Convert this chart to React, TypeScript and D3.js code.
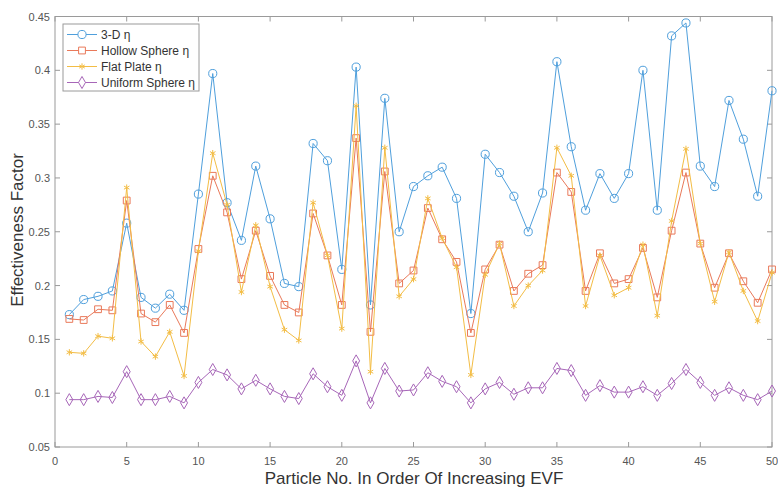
import React from "react";
import * as d3 from "d3";

const particleNo = d3.range(1, 51);
const threeD = [0.173,0.187,0.190,0.195,0.258,0.189,0.179,0.192,0.177,0.285,0.397,0.277,0.242,0.311,0.262,0.202,0.199,0.332,0.316,0.215,0.403,0.182,0.374,0.250,0.292,0.302,0.310,0.281,0.174,0.322,0.305,0.283,0.250,0.286,0.408,0.329,0.270,0.304,0.281,0.304,0.400,0.270,0.432,0.444,0.311,0.292,0.372,0.336,0.283,0.381];
const hollow = [0.169,0.168,0.178,0.177,0.279,0.174,0.166,0.182,0.156,0.234,0.302,0.268,0.206,0.251,0.209,0.182,0.175,0.267,0.228,0.182,0.337,0.157,0.306,0.202,0.214,0.272,0.243,0.222,0.156,0.215,0.238,0.195,0.211,0.219,0.305,0.287,0.195,0.230,0.202,0.206,0.235,0.189,0.251,0.305,0.239,0.198,0.230,0.204,0.184,0.215];
const flat = [0.138,0.137,0.153,0.151,0.291,0.148,0.134,0.157,0.116,0.232,0.323,0.275,0.194,0.256,0.199,0.159,0.149,0.277,0.228,0.160,0.367,0.120,0.328,0.190,0.206,0.281,0.244,0.217,0.117,0.210,0.239,0.181,0.200,0.214,0.328,0.302,0.181,0.228,0.191,0.198,0.238,0.172,0.260,0.327,0.239,0.185,0.231,0.195,0.167,0.212];
const uniform = [0.094,0.094,0.097,0.096,0.120,0.094,0.094,0.097,0.091,0.110,0.122,0.117,0.104,0.112,0.104,0.097,0.095,0.118,0.106,0.098,0.130,0.091,0.123,0.102,0.103,0.119,0.111,0.106,0.091,0.104,0.110,0.099,0.105,0.105,0.123,0.121,0.098,0.107,0.101,0.101,0.106,0.098,0.109,0.122,0.110,0.098,0.105,0.098,0.094,0.102];

const seriesNames = ["3-D η", "Hollow Sphere η", "Flat Plate η", "Uniform Sphere η"];
const seriesColors = ["#4f9fdc", "#e9795a", "#f3bd45", "#a766b8"];
const xTicks = [0, 5, 10, 15, 20, 25, 30, 35, 40, 45, 50];
const yTicks = [0.05, 0.1, 0.15, 0.2, 0.25, 0.3, 0.35, 0.4, 0.45];

const W = 778, H = 487;
const L = 55, R = 772, T = 16.5, B = 447;

export default function App() {
  const x = d3.scaleLinear().domain([0, 50]).range([L, R]);
  const y = d3.scaleLinear().domain([0.05, 0.45]).range([B, T]);
  const allSeries = [threeD, hollow, flat, uniform];
  const symbols = [
    d3.symbol(d3.symbolCircle, 52),
    d3.symbol(d3.symbolSquare, 46),
    d3.symbol(d3.symbolAsterisk, 28),
    d3.symbol(d3.symbolDiamond, 42),
  ];
  const line = d3.line<number>().x((_, i) => x(particleNo[i])).y((d) => y(d));
  const font = "'Liberation Sans', Arial, sans-serif";
  const axisColor = "#9a9a9a";
  const tickText = "#555";
  const tl = 5;

  return (
    <svg width={W} height={H} style={{ position: "absolute", left: 0, top: 0, background: "#fff" }} fontFamily={font}>
      <rect x={0} y={0} width={W} height={H} fill="#fff" />
      {/* frame */}
      <rect x={L} y={T} width={R - L} height={B - T} fill="none" stroke={axisColor} strokeWidth={1} />
      {xTicks.map((t) => (
        <g key={"xt" + t}>
          <line x1={x(t)} x2={x(t)} y1={B} y2={B - tl} stroke={axisColor} />
          <line x1={x(t)} x2={x(t)} y1={T} y2={T + tl} stroke={axisColor} />
          <text x={x(t)} y={465} fontSize={11} fill={tickText} textAnchor="middle">{t}</text>
        </g>
      ))}
      {yTicks.map((t) => (
        <g key={"yt" + t}>
          <line x1={L} x2={L + tl} y1={y(t)} y2={y(t)} stroke={axisColor} />
          <line x1={R} x2={R - tl} y1={y(t)} y2={y(t)} stroke={axisColor} />
          <text x={50} y={y(t) + 4} fontSize={11} fill={tickText} textAnchor="end">{d3.format("~g")(t)}</text>
        </g>
      ))}
      {/* series */}
      {allSeries.map((s, k) => (
        <g key={"s" + k}>
          <path d={line(s) || ""} fill="none" stroke={seriesColors[k]} strokeWidth={1} />
          {s.map((v, i) => (
            <path key={i} d={symbols[k]() || ""} transform={`translate(${x(particleNo[i])},${y(v)})`} fill="none" stroke={seriesColors[k]} strokeWidth={1} />
          ))}
        </g>
      ))}
      {/* legend */}
      <rect x={63} y={24} width={136} height={67} fill="#fff" stroke={axisColor} />
      {seriesNames.map((n, k) => {
        const ly = 34.5 + k * 16;
        return (
          <g key={"lg" + k}>
            <line x1={67} x2={97} y1={ly} y2={ly} stroke={seriesColors[k]} />
            <path d={symbols[k]() || ""} transform={`translate(82,${ly})`} fill="#fff" stroke={seriesColors[k]} />
            <text x={101} y={ly + 4.5} fontSize={12} fill="#333">{n}</text>
          </g>
        );
      })}
      {/* axis labels */}
      <text x={414} y={484} fontSize={17} fill="#333" textAnchor="middle">Particle No. In Order Of Increasing EVF</text>
      <text transform="translate(23,230) rotate(-90)" fontSize={17} fill="#333" textAnchor="middle">Effectiveness Factor</text>
    </svg>
  );
}
